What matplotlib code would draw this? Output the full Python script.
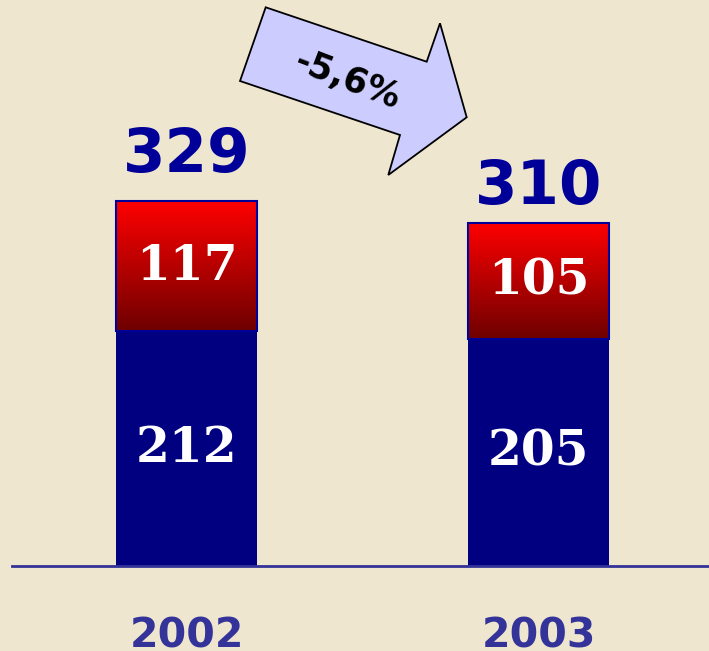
import numpy as np
import matplotlib.pyplot as plt
from matplotlib.patches import Polygon, Rectangle
from matplotlib.colors import LinearSegmentedColormap

# data
years = ["2002", "2003"]
base_part = [212, 205]
top_part = [117, 105]
change_label = "-5,6%"

totals = [b + t for b, t in zip(base_part, top_part)]

bg = '#EFE6D0'
navy = '#000080'
fig = plt.figure(figsize=(7.09, 6.51), dpi=100, facecolor=bg)
ax = fig.add_axes([0, 0, 1, 1])
ax.set_facecolor(bg)

x = np.arange(len(years))
w = 0.4
ax.bar(x, base_part, width=w, color=navy, zorder=2)

# red segment with vertical gradient
reds = LinearSegmentedColormap.from_list('reds', ['#6E0000', '#FF0000'])
grad = np.linspace(0, 1, 256).reshape(-1, 1)
for xi, b, t in zip(x, base_part, top_part):
    rect = Rectangle((xi - w / 2, b), w, t, facecolor='none',
                     edgecolor='#000099', linewidth=1.5, zorder=4)
    ax.add_patch(rect)
    im = ax.imshow(grad, cmap=reds, origin='lower', aspect='auto',
                   extent=[xi - w / 2, xi + w / 2, b, b + t], zorder=3)
    im.set_clip_path(rect)

ax.set_xlim(-0.53, 1.484)
ax.set_ylim(-76.7, 510.8)
ax.axis('off')

# baseline
ax.plot([-0.496, 1.484], [0, 0], color='#333399', linewidth=2, zorder=5)

# inside labels
for xi, b, t in zip(x, base_part, top_part):
    ax.text(xi, b / 2, str(b), color='white', fontsize=35, fontweight='bold',
            family='DejaVu Serif', ha='center', va='center', zorder=6)
    ax.text(xi, b + t / 2, str(t), color='white', fontsize=35, fontweight='bold',
            family='DejaVu Serif', ha='center', va='center', zorder=6)

# totals above bars
gaps = [29, 19]
for xi, tot, g in zip(x, totals, gaps):
    ax.annotate(str(tot), xy=(xi, tot), xytext=(0, g), textcoords='offset pixels',
                color='#000099', fontsize=44, fontweight='bold',
                ha='center', va='baseline')

# year labels
for xi, yr in zip(x, years):
    ax.annotate(yr, xy=(xi, 0), xytext=(0, -81), textcoords='offset pixels',
                color='#333399', fontsize=29.5, fontweight='bold',
                ha='center', va='baseline')

# arrow showing the change
pts = [(265.7, 7.3), (426.7, 61.7), (440, 23.3), (466.7, 117.3),
       (388.3, 175), (400, 135), (240, 81)]
W, H = 709, 651
arrow = Polygon([(px / W, 1 - py / H) for px, py in pts], closed=True,
                facecolor='#CCCCFF', edgecolor='black', linewidth=1.3,
                transform=fig.transFigure, zorder=7)
fig.patches.append(arrow)
fig.text(347 / W, 1 - 80 / H, change_label, fontsize=25, fontweight='bold',
         rotation=-21, ha='center', va='center', color='black', zorder=8)

fig.savefig('out.png', dpi=100, facecolor=bg)
